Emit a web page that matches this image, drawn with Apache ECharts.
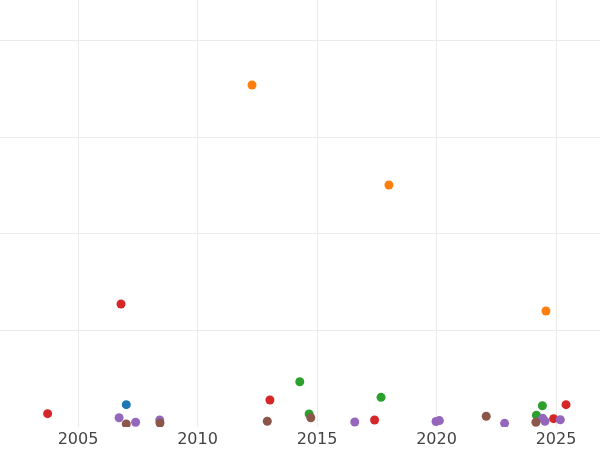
<!DOCTYPE html>
<html>
<head>
<meta charset="utf-8">
<script src="https://cdn.jsdelivr.net/npm/echarts@6/dist/echarts.min.js"></script>
<style>
html,body{margin:0;padding:0;background:#fff;width:600px;height:450px;overflow:hidden;}
#wrap{position:relative;width:600px;height:450px;overflow:hidden;}
#c{position:absolute;left:-42px;top:-57px;width:760px;height:507px;}
</style>
</head>
<body>
<div id="wrap"><div id="c"></div></div>
<script>
var xTicks = [2000, 2005, 2010, 2015, 2020, 2025, 2030];
var blue   = [[2007.02, 2.31]];
var orange = [[2012.28, 35.37], [2018.01, 25.03], [2024.58, 12.0]];
var green  = [[2014.28, 4.68], [2014.67, 1.34], [2017.68, 3.07], [2024.43, 2.20], [2024.18, 1.21]];
var red    = [[2003.73, 1.38], [2006.80, 12.72], [2013.03, 2.79], [2017.41, 0.72], [2024.90, 0.86], [2025.42, 2.31]];
var purple = [[2006.72, 0.96], [2007.41, 0.49], [2008.42, 0.72], [2016.58, 0.52], [2019.98, 0.57], [2020.12, 0.66], [2022.85, 0.38], [2024.44, 0.90], [2024.54, 0.59], [2025.18, 0.75]];
var brown  = [[2007.02, 0.31], [2008.43, 0.41], [2012.92, 0.59], [2014.74, 0.96], [2022.08, 1.11], [2024.16, 0.49]];

var names = ['blue', 'orange', 'green', 'red', 'purple', 'brown'];
var dataSets = [blue, orange, green, red, purple, brown];
var colors = ['#1f77b4', '#ff7f0e', '#2ca02c', '#d62728', '#9467bd', '#8c564b'];

var chart = echarts.init(document.getElementById('c'), null, {renderer: 'canvas'});
var gridTop = 0.5, gridH = 483.5, gridLeft = 0.5, gridW = 717;
chart.setOption({
  animation: false,
  backgroundColor: '#ffffff',
  grid: {left: gridLeft, top: gridTop, width: gridW, height: gridH, containLabel: false, outerBoundsMode: 'none'},
  xAxis: [{
    type: 'value', min: xTicks[0], max: xTicks[xTicks.length - 1], interval: 5, z: 0,
    axisLine: {show: false}, axisTick: {show: false}, axisLabel: {show: false},
    splitLine: {show: true, lineStyle: {color: '#ebebeb', width: 1}}
  }, {
    type: 'value', min: xTicks[0], max: xTicks[xTicks.length - 1], interval: 5, z: 10,
    position: 'bottom',
    axisLine: {show: false}, axisTick: {show: false}, splitLine: {show: false},
    axisLabel: {color: '#444', fontFamily: 'DejaVu Sans', fontSize: 16, margin: 5,
      formatter: function (v) { return String(v); }}
  }],
  yAxis: {
    type: 'value', min: 0, max: 50, interval: 10,
    axisLine: {show: false}, axisTick: {show: false}, axisLabel: {show: false},
    splitLine: {show: true, lineStyle: {color: '#ebebeb', width: 1}}
  },
  graphic: [{
    type: 'rect', z: 5, silent: true,
    shape: {x: 0, y: gridTop + gridH, width: 760, height: 40},
    style: {fill: '#ffffff'}
  }],
  series: dataSets.map(function (d, i) {
    return {
      name: names[i], type: 'scatter', data: d, symbolSize: 9, clip: true,
      xAxisIndex: 0, z: 2,
      itemStyle: {color: colors[i], opacity: 1}
    };
  })
});
</script>
</body>
</html>
